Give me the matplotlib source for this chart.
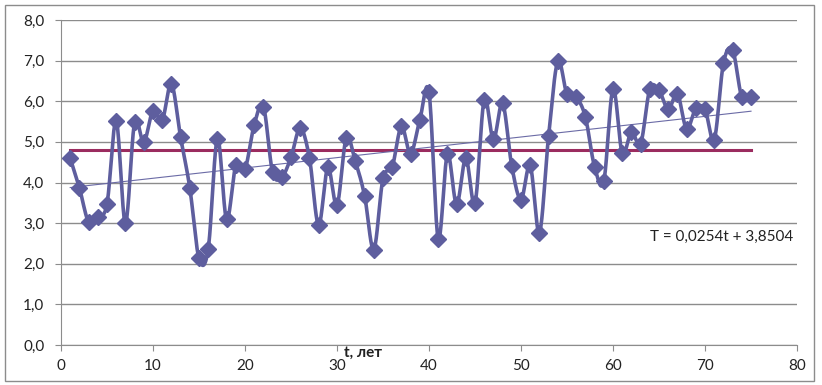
import numpy as np
import matplotlib
matplotlib.use("Agg")
import matplotlib.pyplot as plt
from matplotlib.patches import Rectangle

plt.rcParams['font.family'] = ['Lato', 'DejaVu Sans']

t = list(range(1, 76))
values = [4.60, 3.87, 3.03, 3.16, 3.47, 5.52, 3.00, 5.48, 4.99, 5.77,
          5.53, 6.43, 5.11, 3.87, 2.13, 2.36, 5.08, 3.09, 4.42, 4.33,
          5.42, 5.87, 4.25, 4.13, 4.62, 5.34, 4.61, 2.95, 4.37, 3.44,
          5.09, 4.52, 3.67, 2.35, 4.10, 4.38, 5.38, 4.71, 5.54, 6.22,
          2.62, 4.70, 3.46, 4.60, 3.49, 6.04, 5.06, 5.95, 4.40, 3.58,
          4.42, 2.76, 5.15, 6.99, 6.17, 6.10, 5.61, 4.38, 4.03, 6.31,
          4.72, 5.25, 4.95, 6.30, 6.27, 5.80, 6.18, 5.32, 5.83, 5.80,
          5.05, 6.93, 7.26, 6.10, 6.10]
trend_slope = 0.0254
trend_intercept = 3.8504
equation_label = "T = 0,0254t + 3,8504"
x_label = "t, лет"
x_ticks = [0, 10, 20, 30, 40, 50, 60, 70, 80]
y_ticks = [0, 1, 2, 3, 4, 5, 6, 7, 8]

series_color = '#5e5e9e'
mean_color = '#9b2c5f'


def smooth(xs, ys, n=20):
    xs = np.asarray(xs, float)
    ys = np.asarray(ys, float)
    P = np.column_stack([xs, ys])
    out = [P[0]]
    m = len(P)
    for i in range(m - 1):
        p0 = P[i - 1] if i > 0 else P[i]
        p1 = P[i]
        p2 = P[i + 1]
        p3 = P[i + 2] if i + 2 < m else P[i + 1]
        c1 = p1 + (p2 - p0) / 6.0
        c2 = p2 - (p3 - p1) / 6.0
        s = np.linspace(0, 1, n)[1:, None]
        seg = ((1 - s) ** 3) * p1 + 3 * ((1 - s) ** 2) * s * c1 + 3 * (1 - s) * s ** 2 * c2 + s ** 3 * p2
        out.extend(seg)
    out = np.array(out)
    return out[:, 0], out[:, 1]


fig = plt.figure(figsize=(8.22, 3.85), dpi=100)
ax = fig.add_axes([0.0742, 0.1039, 0.8954, 0.8441])

fig.patches.append(Rectangle((0.006, 0.01), 0.984, 0.978, transform=fig.transFigure,
                             fill=False, edgecolor='#8c8c8c', linewidth=1.0))

ax.set_xlim(0, 80)
ax.set_ylim(0, 8)
ax.set_xticks(x_ticks)
ax.set_yticks(y_ticks)
ax.set_xticklabels([str(v) for v in x_ticks], fontsize=11)
ax.set_yticklabels([f"{v:.1f}".replace('.', ',') for v in y_ticks], fontsize=11)
ax.grid(axis='y', color='#8c8c8c', linewidth=1.0)
ax.set_axisbelow(True)
for side in ['top', 'right']:
    ax.spines[side].set_visible(False)
for side in ['left', 'bottom']:
    ax.spines[side].set_color('#8c8c8c')
ax.tick_params(axis='both', colors='#8c8c8c', labelcolor='#222222', length=4, direction='out')
ax.tick_params(axis='y', pad=8)
ax.tick_params(axis='x', pad=6)

tx = np.array(t, float)
mean_val = np.mean(values)
ax.plot([tx[0], tx[-1]], [mean_val, mean_val], color=mean_color, linewidth=2.2, zorder=2)
ax.plot(tx, trend_slope * tx + trend_intercept, color='#6b6ba6', linewidth=0.8, zorder=2)

sx, sy = smooth(tx, values)
ax.plot(sx, sy, color=series_color, linewidth=2.6, zorder=3)
ax.plot(tx, values, linestyle='none', marker='D', markersize=8.5,
        color=series_color, markeredgecolor=series_color, zorder=4)

fig.text(0.441, 0.066, x_label, fontsize=11, fontweight='bold', ha='center', va='bottom', color='#222222')
ax.text(71.8, 2.66, equation_label, fontsize=11, ha='center', va='center', color='#222222')

fig.savefig('out.png', dpi=100)
